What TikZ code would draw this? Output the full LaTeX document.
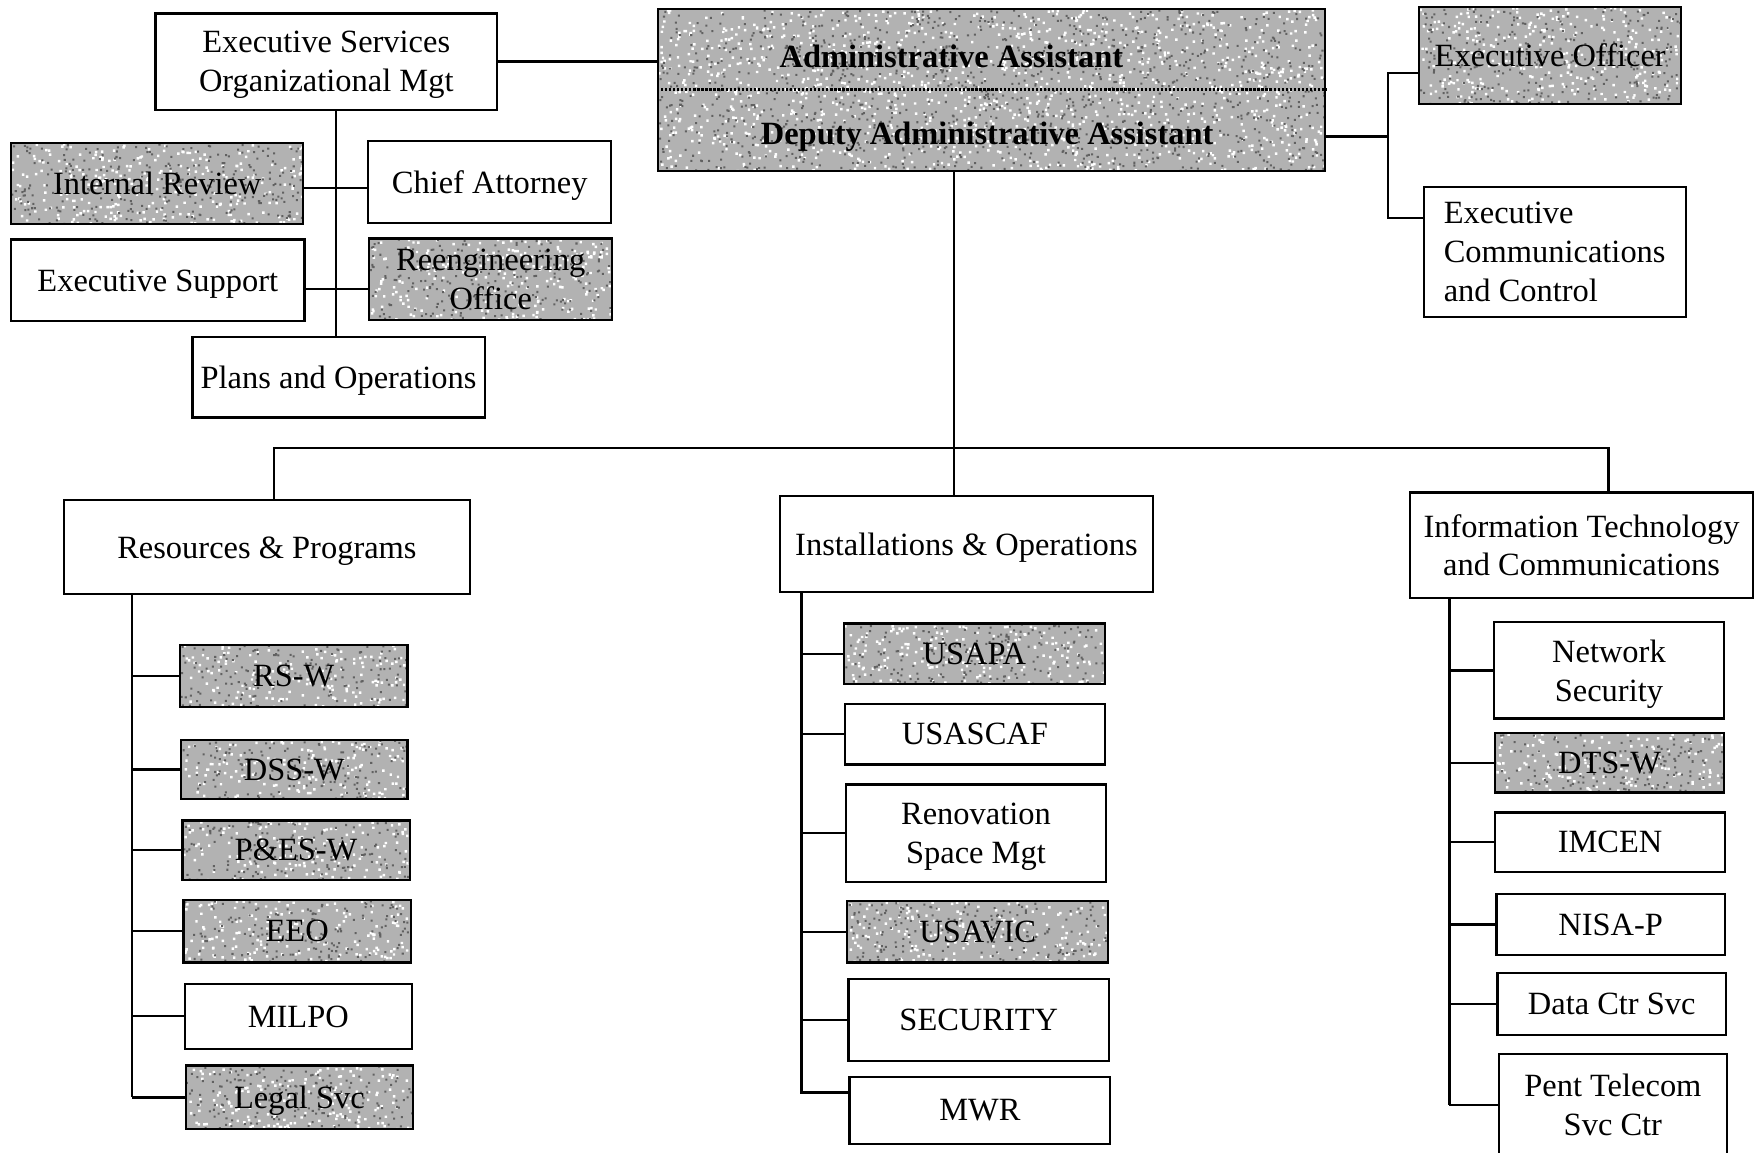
\documentclass[tikz,border=0pt]{standalone}
\usepackage{fontspec}
\usetikzlibrary{calc}
\setmainfont{Liberation Serif}
\newcommand\tmsz{\fontsize{29}{34.5}\selectfont}
\pgfmathsetseed{4321}
\begin{document}
\begin{tikzpicture}[x=1pt,y=-1pt,
  tbox/.style={draw, line width=2pt, inner sep=0pt, align=center, font=\tmsz, text depth=0pt},
  shaded/.style={fill=black!30,
    path picture={
      \coordinate (ppa) at (path picture bounding box.north west);
      \coordinate (ppb) at (path picture bounding box.south west);
      \pgfpointdiff{\pgfpointanchor{path picture bounding box}{south west}}{\pgfpointanchor{path picture bounding box}{north east}}
      \pgfgetlastxy{\ppw}{\pph}
      \pgfmathsetmacro\ppwn{abs(\ppw)}
      \pgfmathtruncatemacro\nd{abs(\ppw/10)*abs(\pph/10)/0.7}
      \fill[white] \foreach \i in {1,...,\nd}{
        ($(ppa)!rnd!(ppb)+({rnd*\ppwn},0)$) rectangle ++(2.2,2.2)};
      \fill[black!62] \foreach \i in {1,...,\nd}{
        ($(ppa)!rnd!(ppb)+({rnd*\ppwn},0)$) rectangle ++(1.8,1.8)};
      }},
  conn/.style={line width=2pt}]
\useasboundingbox (0,0) rectangle (1568,1030);

% ---- top ----
\node[tbox, minimum width=305pt, minimum height=86pt] (ES) at (291.5,55) {Executive Services\\Organizational Mgt};
\node[tbox, shaded, minimum width=596pt, minimum height=145pt] (AA) at (886,80.5) {};
\node[font=\tmsz\bfseries, inner sep=0pt] (AAt) at (850,50) {Administrative Assistant};
\node[font=\tmsz\bfseries, inner sep=0pt] (DAAt) at (882,122) {Deputy Administrative Assistant};
\node[tbox, shaded, minimum width=234pt, minimum height=87pt] (EO) at (1385,49.5) {Executive Officer};
\node[tbox, minimum width=234pt, minimum height=116pt, align=left] (EC) at (1389,225) {Executive\\Communications\\and Control};

\node[tbox, shaded, minimum width=261pt, minimum height=72pt] (IR) at (140.5,164) {Internal Review};
\node[tbox, minimum width=217pt, minimum height=73pt] (CA) at (437.5,162.5) {Chief Attorney};
\node[tbox, minimum width=262pt, minimum height=73pt] (ExS) at (141,250.5) {Executive Support};
\node[tbox, shaded, minimum width=217pt, minimum height=73pt] (RO) at (438.5,249.5) {Reengineering\\Office};
\node[tbox, minimum width=261pt, minimum height=72pt] (PO) at (302.5,337) {Plans and Operations};

% ---- divisions ----
\node[tbox, minimum width=363pt, minimum height=84pt] (RP) at (238.5,489) {Resources \& Programs};
\node[tbox, minimum width=333pt, minimum height=86pt] (IO) at (863.5,486) {Installations \& Operations};
\node[tbox, minimum width=306pt, minimum height=94pt] (IT) at (1413,487) {Information Technology\\and Communications};

% ---- left children ----
\node[tbox, shaded, minimum width=203pt, minimum height=56pt] (RSW) at (262.5,604) {RS-W};
\node[tbox, shaded, minimum width=202pt, minimum height=53pt] (DSSW) at (263,687.5) {DSS-W};
\node[tbox, shaded, minimum width=203pt, minimum height=53pt] (PESW) at (264.5,759.5) {P\&ES-W};
\node[tbox, shaded, minimum width=203pt, minimum height=56pt] (EEO) at (265.5,832) {EEO};
\node[tbox, minimum width=203pt, minimum height=58pt] (MILPO) at (266.5,908) {MILPO};
\node[tbox, shaded, minimum width=203pt, minimum height=57pt] (LS) at (267.5,980.5) {Legal Svc};

% ---- middle children ----
\node[tbox, shaded, minimum width=233pt, minimum height=54pt] (USAPA) at (870.5,584) {USAPA};
\node[tbox, minimum width=232pt, minimum height=54pt] (USASCAF) at (871,656) {USASCAF};
\node[tbox, minimum width=232pt, minimum height=87pt] (RSM) at (872,744.5) {Renovation\\Space Mgt};
\node[tbox, shaded, minimum width=233pt, minimum height=55pt] (USAVIC) at (873.5,832.5) {USAVIC};
\node[tbox, minimum width=233pt, minimum height=73pt] (SEC) at (874.5,911.5) {SECURITY};
\node[tbox, minimum width=233pt, minimum height=60pt] (MWR) at (875.5,992) {MWR};

% ---- right children ----
\node[tbox, minimum width=205pt, minimum height=86pt] (NS) at (1437.5,599) {Network\\Security};
\node[tbox, shaded, minimum width=204pt, minimum height=53pt] (DTS) at (1438,681.5) {DTS-W};
\node[tbox, minimum width=205pt, minimum height=53pt] (IMCEN) at (1438.5,752.5) {IMCEN};
\node[tbox, minimum width=204pt, minimum height=54pt] (NISA) at (1439,826) {NISA-P};
\node[tbox, minimum width=204pt, minimum height=56pt] (DCS) at (1440,897) {Data Ctr Svc};
\node[tbox, minimum width=204pt, minimum height=90pt] (PTSC) at (1441,987) {Pent Telecom\\Svc Ctr};

% ---- helper coordinates ----
\coordinate (xES) at (300,0);
\coordinate (xAA) at (852,0);
\coordinate (xRP) at (245,0);
\coordinate (xIT) at (1437,0);
\coordinate (xEO) at (1240,0);
\coordinate (xL) at (118,0);
\coordinate (xM) at (716,0);
\coordinate (xR) at (1295,0);
\coordinate (yBus) at (0,400);
\coordinate (yIR) at (0,168);
\coordinate (yXS) at (0,258);
\coordinate (yAAr) at (0,122);
\coordinate (yEO) at (0,65);
\coordinate (yEC) at (0,195);
\coordinate (yMWR) at (0,976);
\coordinate (yDot) at (0,80);

% ---- connectors ----
\draw[line width=2.4pt, dash pattern=on 2pt off 1.6pt] (AA.west |- yDot) -- (AA.east |- yDot);
\draw[conn] (ES.east) -- (ES.east -| AA.west);
\draw[conn] (ES.south -| xES) -- (PO.north -| xES);
\draw[conn] (IR.east |- yIR) -- (CA.west |- yIR);
\draw[conn] (ExS.east |- yXS) -- (RO.west |- yXS);
\draw[conn] (AA.east |- yAAr) -- (xEO |- yAAr);
\draw[conn] (EO.west |- yEO) -- (xEO |- yEO) -- (xEO |- yEC) -- (EC.west |- yEC);
\draw[conn] (AA.south -| xAA) -- (IO.north -| xAA);
\draw[conn] (RP.north -| xRP) -- (xRP |- yBus) -- (xIT |- yBus) -- (IT.north -| xIT);

\draw[conn] (RP.south -| xL) -- (xL |- LS.west);
\foreach \n in {RSW,DSSW,PESW,EEO,MILPO,LS} \draw[conn] (xL |- \n.west) -- (\n.west);

\draw[conn] (IO.south -| xM) -- (xM |- yMWR) -- (MWR.west |- yMWR);
\foreach \n in {USAPA,USASCAF,RSM,USAVIC,SEC} \draw[conn] (xM |- \n.west) -- (\n.west);

\draw[conn] (IT.south -| xR) -- (xR |- PTSC.west);
\foreach \n in {NS,DTS,IMCEN,NISA,DCS,PTSC} \draw[conn] (xR |- \n.west) -- (\n.west);
\end{tikzpicture}
\end{document}
